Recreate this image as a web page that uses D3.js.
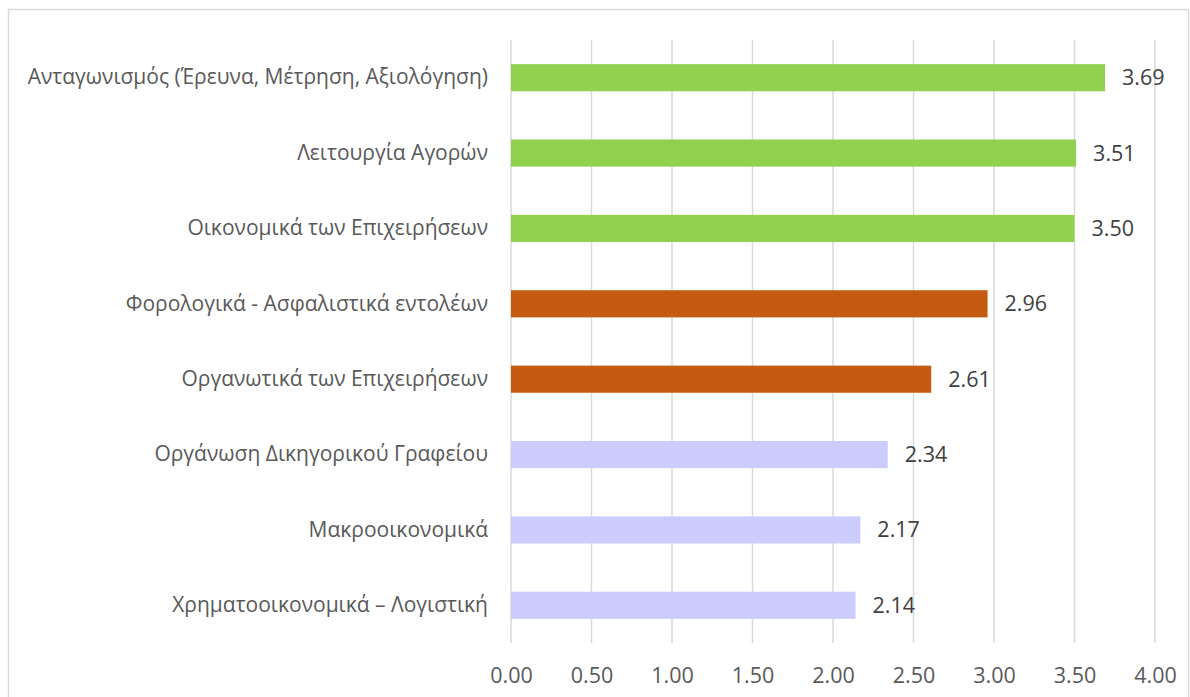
<!DOCTYPE html>
<html>
<head>
<meta charset="utf-8">
<script src="https://cdn.jsdelivr.net/npm/d3@7"></script>
<style>
  body { margin: 0; background: #fff; }
  svg { display: block; font-family: "Open Sans", "Noto Sans", sans-serif; }
</style>
</head>
<body>
<div id="container"></div>
<script>
var categories = [
    "Ανταγωνισμός (Έρευνα, Μέτρηση, Αξιολόγηση)",
    "Λειτουργία Αγορών",
    "Οικονομικά των Επιχειρήσεων",
    "Φορολογικά - Ασφαλιστικά εντολέων",
    "Οργανωτικά των Επιχειρήσεων",
    "Οργάνωση Δικηγορικού Γραφείου",
    "Μακροοικονομικά",
    "Χρηματοοικονομικά – Λογιστική"
];
var values = [3.69, 3.51, 3.50, 2.96, 2.61, 2.34, 2.17, 2.14];
var groups = ["high", "high", "high", "mid", "mid", "low", "low", "low"];
var xTicks = [0, 0.5, 1, 1.5, 2, 2.5, 3, 3.5, 4];

var colors = d3.scaleOrdinal()
    .domain(["high", "mid", "low"])
    .range(["#92D050", "#C55A11", "#CCCCFF"]);

var width = 1190,
    height = 697;

var svg = d3.select("div#container")
    .append("svg")
    .attr("width", width)
    .attr("height", height);

// chart frame
svg.append("rect")
    .attr("x", 8.5)
    .attr("y", 9.5)
    .attr("width", 1180)
    .attr("height", 720)
    .attr("fill", "none")
    .attr("stroke", "#d9d9d9")
    .attr("stroke-width", 1.5);

var x = d3.scaleLinear().domain([0, 4]).range([511, 1155]);
var y = d3.scaleBand().domain(categories).range([40, 643]).paddingInner(0.64).paddingOuter(0.32);

// vertical gridlines
svg.append("g")
    .selectAll("line")
    .data(xTicks)
    .enter().append("line")
    .attr("x1", function(d) { return x(d); })
    .attr("x2", function(d) { return x(d); })
    .attr("y1", 40)
    .attr("y2", 643)
    .attr("stroke", "#d9d9d9")
    .attr("stroke-width", 1.5);

// x axis labels
var xAxis = d3.axisBottom(x)
    .tickValues(xTicks)
    .tickFormat(d3.format(".2f"))
    .tickSize(0)
    .tickPadding(0);

var gx = svg.append("g")
    .attr("transform", "translate(0,668)")
    .call(xAxis);
gx.select(".domain").remove();
gx.selectAll("text")
    .attr("font-size", 21.5)
    .attr("font-family", "\"Open Sans\", sans-serif")
    .attr("fill", "#595959");

// category labels
var yAxis = d3.axisLeft(y).tickSize(0).tickPadding(0);
var gy = svg.append("g")
    .attr("transform", "translate(488,0)")
    .call(yAxis);
gy.select(".domain").remove();
gy.selectAll("text")
    .attr("font-size", 21)
    .attr("font-family", "\"Open Sans\", sans-serif")
    .attr("fill", "#595959");

// bars
svg.append("g")
    .selectAll("rect")
    .data(values)
    .enter().append("rect")
    .attr("x", x(0))
    .attr("y", function(d, i) { return y(categories[i]); })
    .attr("width", function(d) { return x(d) - x(0); })
    .attr("height", y.bandwidth())
    .attr("fill", function(d, i) { return colors(groups[i]); });

// value labels
svg.append("g")
    .selectAll("text")
    .data(values)
    .enter().append("text")
    .attr("x", function(d) { return x(d) + 17; })
    .attr("y", function(d, i) { return y(categories[i]) + y.bandwidth() / 2; })
    .attr("dy", "0.35em")
    .attr("font-size", 21.5)
    .attr("fill", "#404040")
    .text(function(d) { return d.toFixed(2); });
</script>
</body>
</html>
